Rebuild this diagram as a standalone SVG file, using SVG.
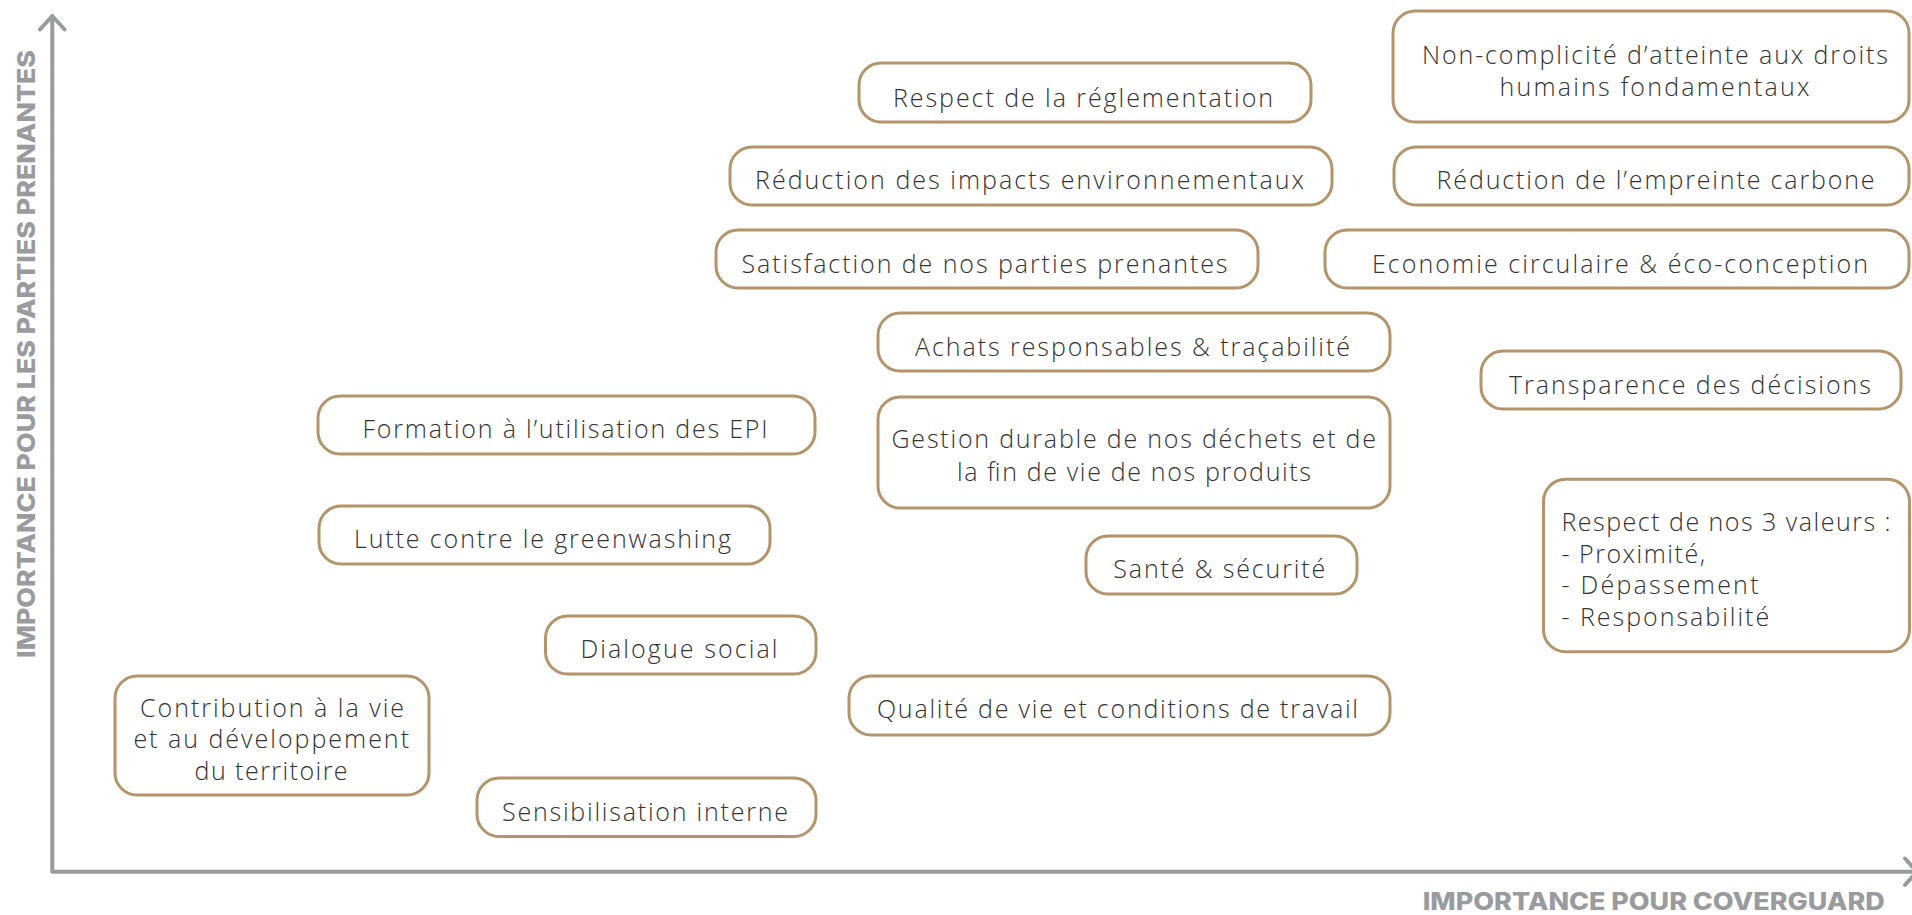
<svg xmlns="http://www.w3.org/2000/svg" width="1912" height="915" viewBox="0 0 1912 915">
<style>
.node rect{fill:#fff;stroke:#B4956B;stroke-width:3}
.node text{font-family:"Open Sans","Lato","Liberation Sans",Arial,sans-serif;font-weight:300;font-size:25px;fill:#333}
.axis{stroke:#9A9B9F;stroke-width:4;fill:none;stroke-linecap:round;stroke-linejoin:round}
.axlabel{font-family:Inter,"Liberation Sans",Arial,sans-serif;font-weight:800;font-size:25px;fill:#9A9B9F}
</style>
<rect width="1912" height="915" fill="#fff"/>
<g id="connectors">
<path class="axis" d="M52.3,16 V871.7 H1917"/>
<polyline class="axis" points="40,29.5 52.3,16 64.6,29.5"/>
<polyline class="axis" points="1905,858.5 1917,871.7 1905,885"/>
</g>
<g id="axis-labels">
<text class="axlabel" transform="translate(34.5,354) rotate(-90)" x="-304" y="0" textLength="608" lengthAdjust="spacingAndGlyphs">IMPORTANCE POUR LES PARTIES PRENANTES</text>
<text class="axlabel" x="1422.7" y="910" style="font-size:24px" textLength="462" lengthAdjust="spacingAndGlyphs">IMPORTANCE POUR COVERGUARD</text>
</g>
<g id="n1" class="node"><rect x="859" y="63" width="452" height="59" rx="22"/><text x="893" y="106.5" textLength="380" lengthAdjust="spacing">Respect de la réglementation</text></g>
<g id="n2" class="node"><rect x="730" y="147" width="602" height="58" rx="22"/><text x="755" y="189" textLength="549" lengthAdjust="spacing">Réduction des impacts environnementaux</text></g>
<g id="n3" class="node"><rect x="716" y="230" width="542" height="58" rx="22"/><text x="741.5" y="273" textLength="486" lengthAdjust="spacing">Satisfaction de nos parties prenantes</text></g>
<g id="n4" class="node"><rect x="878" y="313" width="512" height="58" rx="22"/><text x="915" y="356" textLength="435" lengthAdjust="spacing">Achats responsables &amp; traçabilité</text></g>
<g id="n5" class="node"><rect x="878" y="397" width="512" height="111" rx="22"/><text x="891.5" y="448" textLength="484.5" lengthAdjust="spacing">Gestion durable de nos déchets et de</text><text x="957" y="481" textLength="354" lengthAdjust="spacing">la fin de vie de nos produits</text></g>
<g id="n6" class="node"><rect x="1393" y="11" width="516" height="111" rx="22"/><text x="1422" y="63.5" textLength="466" lengthAdjust="spacing">Non-complicité d’atteinte aux droits</text><text x="1499.5" y="96" textLength="310" lengthAdjust="spacing">humains fondamentaux</text></g>
<g id="n7" class="node"><rect x="1394" y="147" width="515" height="58" rx="22"/><text x="1436.6" y="189" textLength="438" lengthAdjust="spacing">Réduction de l’empreinte carbone</text></g>
<g id="n8" class="node"><rect x="1325" y="230" width="584" height="58" rx="22"/><text x="1372" y="273" textLength="496" lengthAdjust="spacing">Economie circulaire &amp; éco-conception</text></g>
<g id="n9" class="node"><rect x="1481" y="351" width="420" height="58" rx="22"/><text x="1509" y="394" textLength="362" lengthAdjust="spacing">Transparence des décisions</text></g>
<g id="n10" class="node"><rect x="318" y="396" width="497" height="58" rx="22"/><text x="362.5" y="438" textLength="405" lengthAdjust="spacing">Formation à l’utilisation des EPI</text></g>
<g id="n11" class="node"><rect x="319" y="506" width="451" height="58" rx="22"/><text x="354" y="548.3" textLength="377" lengthAdjust="spacing">Lutte contre le greenwashing</text></g>
<g id="n12" class="node"><rect x="545.5" y="616" width="270.5" height="58" rx="22"/><text x="580.5" y="658.3" textLength="197" lengthAdjust="spacing">Dialogue social</text></g>
<g id="n13" class="node"><rect x="115" y="676" width="314" height="119" rx="22"/><text x="140" y="716.7" textLength="264" lengthAdjust="spacing">Contribution à la vie</text><text x="133.4" y="748.3" textLength="275.6" lengthAdjust="spacing">et au développement</text><text x="194.6" y="780" textLength="153" lengthAdjust="spacing">du territoire</text></g>
<g id="n14" class="node"><rect x="477" y="778" width="339" height="58.5" rx="22"/><text x="502" y="820.7" textLength="286" lengthAdjust="spacing">Sensibilisation interne</text></g>
<g id="n15" class="node"><rect x="1086" y="536" width="271" height="58" rx="22"/><text x="1113.3" y="577.7" textLength="212" lengthAdjust="spacing">Santé &amp; sécurité</text></g>
<g id="n16" class="node"><rect x="849" y="676" width="541" height="59" rx="22"/><text x="877" y="718.3" textLength="481" lengthAdjust="spacing">Qualité de vie et conditions de travail</text></g>
<g id="n17" class="node"><rect x="1543.5" y="479.3" width="366" height="172.4" rx="22"/><text x="1561.5" y="531" textLength="329" lengthAdjust="spacing">Respect de nos 3 valeurs :</text><text x="1561.5" y="562.5" textLength="143.5" lengthAdjust="spacing">- Proximité,</text><text x="1561.5" y="594.2" textLength="197" lengthAdjust="spacing">- Dépassement</text><text x="1561.5" y="625.7" textLength="207.7" lengthAdjust="spacing">- Responsabilité</text></g>
</svg>
